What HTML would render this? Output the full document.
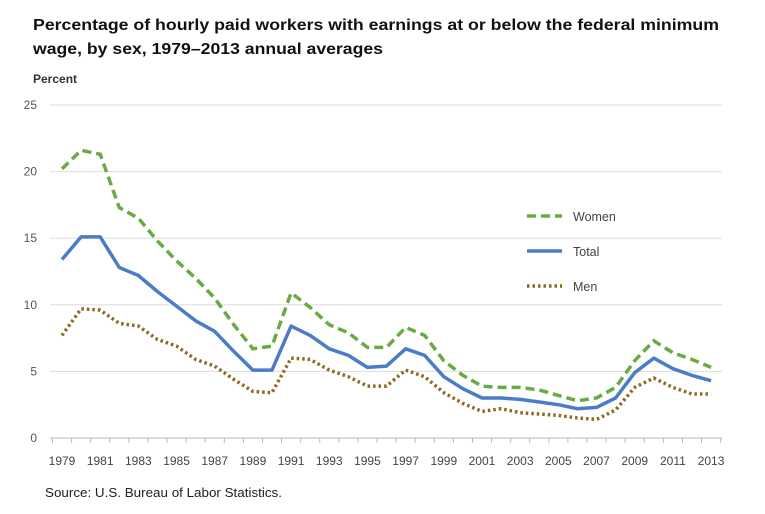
<!DOCTYPE html>
<html><head><meta charset="utf-8"><style>
html,body{margin:0;padding:0;background:#fff;}
svg{display:block;font-family:"Liberation Sans",Arial,sans-serif;}
</style></head><body>
<svg id="c" width="765" height="514" viewBox="0 0 765 514" xmlns="http://www.w3.org/2000/svg">
<text x="33" y="30" font-size="15.5" font-weight="bold" fill="#111" textLength="686" lengthAdjust="spacingAndGlyphs">Percentage of hourly paid workers with earnings at or below the federal minimum</text>
<text x="33" y="54" font-size="15.5" font-weight="bold" fill="#111" textLength="350" lengthAdjust="spacingAndGlyphs">wage, by sex, 1979–2013 annual averages</text>
<text x="33" y="83" font-size="12" font-weight="bold" fill="#333">Percent</text>
<g id="grid"></g>
<g id="series"></g>
<g font-size="12.5" fill="#444">
<line x1="527" y1="216" x2="562" y2="216" stroke="#6aaa45" stroke-width="3.5" stroke-dasharray="9,5"/>
<text x="573" y="221">Women</text>
<line x1="527" y1="251" x2="562" y2="251" stroke="#4a7cc8" stroke-width="3.5"/>
<text x="573" y="256">Total</text>
<line x1="527" y1="286" x2="562" y2="286" stroke="#8a6a1e" stroke-width="3.5" stroke-dasharray="2.5,3"/>
<text x="573" y="291">Men</text>
</g>
<text x="45" y="497" font-size="12.5" fill="#222" textLength="237" lengthAdjust="spacingAndGlyphs">Source: U.S. Bureau of Labor Statistics.</text>
</svg>
<script>
var ns="http://www.w3.org/2000/svg",s=document.getElementById('c');
var g=document.getElementById('grid'),sr=document.getElementById('series');
function X(y){return 62+(y-1979)*19.09;}function Y(v){return 438-v*13.32;}
function el(t,a,p){var e=document.createElementNS(ns,t);for(var k in a)e.setAttribute(k,a[k]);p.appendChild(e);return e;}
for(var v=0;v<=25;v+=5){el('line',{x1:50,x2:722,y1:Y(v),y2:Y(v),stroke:v==0?'#bbb':'#ddd','stroke-width':1},g);
var t=el('text',{x:37,y:Y(v)+4,'font-size':12,fill:'#555','text-anchor':'end'},g);t.textContent=v;}
for(var y=1979;y<=2013;y+=2){var t=el('text',{x:X(y),y:465,'font-size':12,fill:'#444','text-anchor':'middle'},g);t.textContent=y;}
for(var y=1979;y<=2014;y++){el('line',{x1:X(y)-9.5,x2:X(y)-9.5,y1:438,y2:443,stroke:'#bbb'},g);}
var W=[20.2,21.6,21.3,17.3,16.5,14.8,13.3,12.0,10.5,8.5,6.7,6.9,10.9,9.8,8.5,7.9,6.8,6.8,8.3,7.7,5.8,4.7,3.9,3.8,3.8,3.6,3.2,2.8,3.0,3.8,5.8,7.3,6.4,5.9,5.3];
var T=[13.4,15.1,15.1,12.8,12.2,11.0,9.9,8.8,8.0,6.5,5.1,5.1,8.4,7.7,6.7,6.2,5.3,5.4,6.7,6.2,4.6,3.7,3.0,3.0,2.9,2.7,2.5,2.2,2.3,3.0,4.9,6.0,5.2,4.7,4.3];
var M=[7.7,9.7,9.6,8.6,8.4,7.4,6.9,5.9,5.4,4.4,3.5,3.4,6.0,5.9,5.1,4.6,3.9,3.9,5.1,4.6,3.4,2.6,2.0,2.2,1.9,1.8,1.7,1.5,1.4,2.1,3.8,4.5,3.8,3.3,3.3];
function P(d){return d.map(function(v,i){return X(1979+i).toFixed(1)+','+Y(v).toFixed(1);}).join(' ');}
el('polyline',{points:P(W),fill:'none',stroke:'#6aaa45','stroke-width':3.5,'stroke-dasharray':'9,5'},sr);
el('polyline',{points:P(T),fill:'none',stroke:'#4a7cc8','stroke-width':3.5,'stroke-linejoin':'round'},sr);
el('polyline',{points:P(M),fill:'none',stroke:'#8a6a1e','stroke-width':3.5,'stroke-dasharray':'2.5,3'},sr);
</script>
</body></html>
